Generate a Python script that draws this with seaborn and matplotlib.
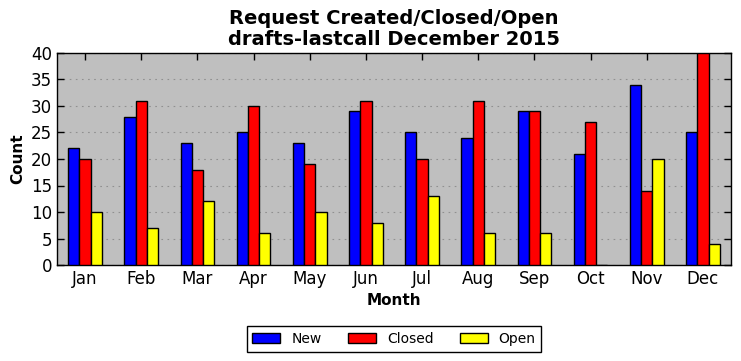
import matplotlib
matplotlib.use("Agg")
import matplotlib.pyplot as plt
import seaborn as sns
import pandas as pd

months = ["Jan", "Feb", "Mar", "Apr", "May", "Jun", "Jul", "Aug", "Sep", "Oct", "Nov", "Dec"]
new = [22, 28, 23, 25, 23, 29, 25, 24, 29, 21, 34, 25]
closed = [20, 31, 18, 30, 19, 31, 20, 31, 29, 27, 14, 40]
open_ = [10, 7, 12, 6, 10, 8, 13, 6, 6, 0, 20, 4]
series = ["New", "Closed", "Open"]
colors = ["#0000ff", "#ff0000", "#ffff00"]

df = pd.DataFrame({
    "Month": months * 3,
    "Count": new + closed + open_,
    "Series": ["New"] * 12 + ["Closed"] * 12 + ["Open"] * 12,
})

sns.set_style("ticks")
plt.rcParams['font.family'] = ['DejaVu Sans']
for k in ["text.color", "axes.labelcolor", "xtick.color", "ytick.color", "axes.edgecolor"]:
    plt.rcParams[k] = "black"

fig = plt.figure(figsize=(7.41, 3.61), dpi=100)
ax = fig.add_axes([57/741, 1 - 265/361, (731-57)/741, (265-53)/361])
ax.set_facecolor("#bfbfbf")
sns.barplot(data=df, x="Month", y="Count", hue="Series", hue_order=series,
            palette=colors, width=0.6, edgecolor="black", linewidth=1,
            saturation=1, ax=ax, zorder=3)
ax.set_xlim(-0.5, 11.5)
ax.set_ylim(0, 40)
ax.set_yticks(range(0, 41, 5))
ax.yaxis.grid(True, linestyle=(0, (1.5, 4)), color="#909090", linewidth=0.8, zorder=0)
ax.set_axisbelow(True)
for s in ax.spines.values():
    s.set_visible(True)
    s.set_color("black")
    s.set_linewidth(1)
ax.tick_params(direction="in", top=True, right=True, labelsize=12, length=5, width=1, colors="black")
ax.set_xlabel("Month", fontsize=11, fontweight="bold", color="black")
ax.set_ylabel("Count", fontsize=11, fontweight="bold", color="black")
ax.set_title("Request Created/Closed/Open\ndrafts-lastcall December 2015", fontsize=14,
             fontweight="bold", linespacing=1.1, color="black")
leg = ax.legend(loc="upper center", bbox_to_anchor=(0.5, -0.257), ncol=3, fontsize=10,
                frameon=True, fancybox=False, edgecolor="black", framealpha=1,
                handlelength=2.0, columnspacing=1.9, borderpad=0.4)
leg.get_frame().set_linewidth(1)
fig.savefig("out.png", dpi=100)
